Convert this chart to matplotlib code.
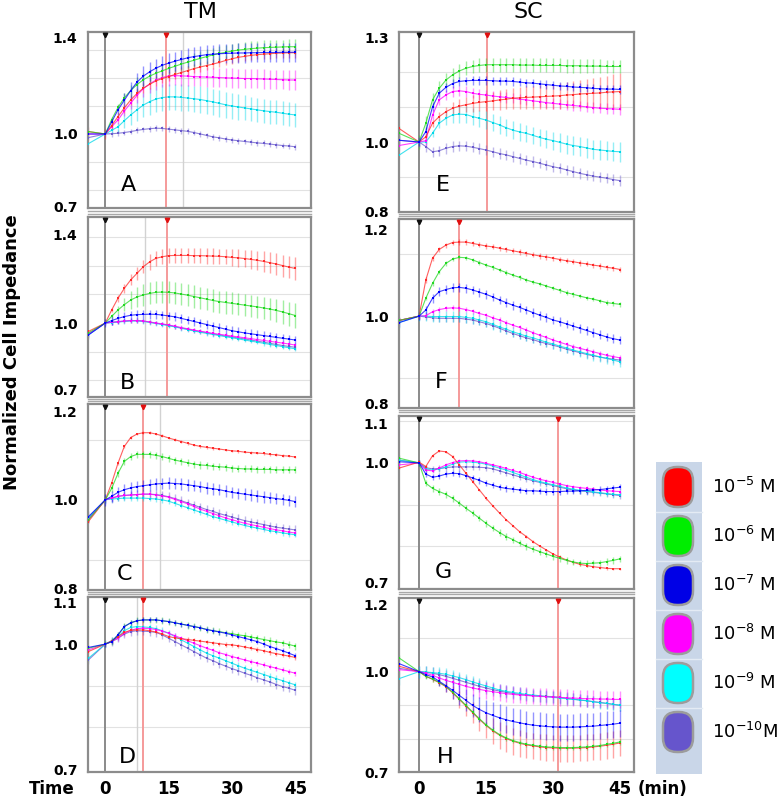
import matplotlib
matplotlib.use("Agg")
import matplotlib.pyplot as plt
from matplotlib.patches import FancyBboxPatch, Rectangle
from matplotlib.ticker import MultipleLocator

# ── data (normalized cell impedance) ─────────────────────────────────────
TIME_TM = [-4.0, 0, 1.5, 3, 4.5, 6, 7.5, 9,
           10.5, 12, 13.5, 15, 16.5, 18, 19.5, 21,
           22.5, 24, 25.5, 27, 28.5, 30, 31.5, 33,
           34.5, 36, 37.5, 39, 40.5, 42, 43.5, 45]
TIME_SC = [-4.5, 0, 1.5, 3, 4.5, 6, 7.5, 9,
           10.5, 12, 13.5, 15, 16.5, 18, 19.5, 21,
           22.5, 24, 25.5, 27, 28.5, 30, 31.5, 33,
           34.5, 36, 37.5, 39, 40.5, 42, 43.5, 45]

CONC_LABELS = ["10$^{-5}$ M", "10$^{-6}$ M", "10$^{-7}$ M",
               "10$^{-8}$ M", "10$^{-9}$ M", "10$^{-10}$M"]

# panel A (TM)
A_RED = [1.01, 1.00, 1.035, 1.072, 1.108, 1.141, 1.168, 1.19,
         1.206, 1.22, 1.23, 1.238, 1.247, 1.255, 1.263, 1.271,
         1.278, 1.284, 1.29, 1.297, 1.305, 1.312, 1.318, 1.322,
         1.326, 1.329, 1.331, 1.333, 1.335, 1.336, 1.337, 1.337]
A_GREEN = [1.01, 1.00, 1.06, 1.11, 1.15, 1.18, 1.205, 1.225,
           1.24, 1.252, 1.262, 1.272, 1.281, 1.29, 1.298, 1.306,
           1.314, 1.321, 1.328, 1.334, 1.339, 1.344, 1.348, 1.351,
           1.354, 1.356, 1.358, 1.359, 1.36, 1.361, 1.362, 1.362]
A_BLUE = [1.00, 1.00, 1.05, 1.10, 1.14, 1.18, 1.215, 1.24,
          1.258, 1.273, 1.285, 1.294, 1.302, 1.309, 1.316, 1.321,
          1.325, 1.329, 1.331, 1.333, 1.334, 1.335, 1.336, 1.336,
          1.337, 1.337, 1.338, 1.338, 1.338, 1.339, 1.339, 1.339]
A_MAGENTA = [1.00, 1.00, 1.03, 1.058, 1.095, 1.128, 1.16, 1.188,
             1.208, 1.224, 1.234, 1.241, 1.242, 1.241, 1.24, 1.238,
             1.237, 1.236, 1.235, 1.234, 1.233, 1.232, 1.231, 1.23,
             1.23, 1.229, 1.228, 1.227, 1.226, 1.225, 1.224, 1.224]
A_CYAN = [0.96, 1.00, 1.015, 1.03, 1.055, 1.079, 1.10, 1.12,
          1.134, 1.145, 1.151, 1.154, 1.154, 1.152, 1.149, 1.146,
          1.143, 1.138, 1.133, 1.127, 1.121, 1.116, 1.112, 1.108,
          1.104, 1.10, 1.096, 1.093, 1.09, 1.086, 1.082, 1.079]
A_PURPLE = [0.985, 1.00, 1.001, 1.003, 1.006, 1.01, 1.015, 1.019,
            1.022, 1.024, 1.023, 1.02, 1.017, 1.014, 1.011, 1.006,
            1.0, 0.994, 0.988, 0.984, 0.979, 0.975, 0.972, 0.969,
            0.966, 0.963, 0.961, 0.958, 0.955, 0.952, 0.95, 0.947]
A_GREEN_ERR = [0, 0, 0.01, 0.015, 0.02, 0.025, 0.03, 0.03,
               0.03, 0.03, 0.03, 0.03, 0.03, 0.03, 0.03, 0.03,
               0.03, 0.03, 0.03, 0.03, 0.03, 0.03, 0.03, 0.03,
               0.03, 0.03, 0.03, 0.03, 0.03, 0.03, 0.03, 0.03]
A_BLUE_ERR = [0, 0, 0.01, 0.02, 0.03, 0.035, 0.04, 0.04,
              0.04, 0.04, 0.04, 0.04, 0.04, 0.04, 0.04, 0.04,
              0.04, 0.04, 0.04, 0.04, 0.04, 0.04, 0.04, 0.04,
              0.04, 0.04, 0.04, 0.04, 0.04, 0.04, 0.04, 0.04]
A_MAGENTA_ERR = [0, 0, 0.01, 0.015, 0.02, 0.025, 0.03, 0.035,
                 0.04, 0.04, 0.04, 0.04, 0.04, 0.04, 0.04, 0.04,
                 0.04, 0.04, 0.04, 0.04, 0.04, 0.04, 0.04, 0.04,
                 0.04, 0.04, 0.04, 0.04, 0.04, 0.04, 0.04, 0.04]
A_CYAN_ERR = [0, 0, 0.01, 0.02, 0.03, 0.04, 0.045, 0.05,
              0.055, 0.055, 0.055, 0.055, 0.055, 0.055, 0.055, 0.055,
              0.055, 0.055, 0.055, 0.055, 0.055, 0.055, 0.052, 0.052,
              0.05, 0.05, 0.05, 0.05, 0.05, 0.05, 0.05, 0.05]

# panel B (TM)
B_RED = [0.962, 1.0, 1.059, 1.112, 1.157, 1.195, 1.225, 1.255,
         1.277, 1.293, 1.30, 1.305, 1.306, 1.306, 1.306, 1.305,
         1.305, 1.304, 1.303, 1.302, 1.30, 1.297, 1.295, 1.292,
         1.288, 1.284, 1.279, 1.273, 1.267, 1.26, 1.253, 1.247]
B_GREEN = [0.955, 1.0, 1.03, 1.059, 1.083, 1.104, 1.118, 1.127,
           1.134, 1.139, 1.14, 1.139, 1.136, 1.131, 1.126, 1.12,
           1.114, 1.108, 1.102, 1.097, 1.093, 1.089, 1.085, 1.081,
           1.077, 1.073, 1.068, 1.063, 1.057, 1.05, 1.042, 1.034]
B_BLUE = [0.946, 1.0, 1.011, 1.021, 1.029, 1.035, 1.038, 1.039,
          1.04, 1.039, 1.036, 1.032, 1.028, 1.021, 1.014, 1.007,
          1.0, 0.993, 0.986, 0.979, 0.972, 0.965, 0.96, 0.955,
          0.951, 0.947, 0.943, 0.939, 0.935, 0.931, 0.927, 0.923]
B_MAGENTA = [0.95, 1.0, 1.003, 1.006, 1.009, 1.011, 1.011, 1.009,
             1.005, 1.0, 0.996, 0.991, 0.985, 0.979, 0.974, 0.968,
             0.963, 0.958, 0.953, 0.949, 0.945, 0.941, 0.937, 0.933,
             0.929, 0.925, 0.921, 0.917, 0.913, 0.909, 0.905, 0.90]
B_CYAN = [0.946, 1.0, 1.002, 1.004, 1.007, 1.009, 1.009, 1.007,
          1.003, 0.998, 0.993, 0.988, 0.982, 0.976, 0.97, 0.964,
          0.958, 0.953, 0.948, 0.943, 0.938, 0.933, 0.928, 0.923,
          0.918, 0.913, 0.908, 0.903, 0.898, 0.893, 0.888, 0.883]
B_PURPLE = [0.948, 1.0, 1.003, 1.006, 1.009, 1.011, 1.011, 1.009,
            1.004, 0.999, 0.995, 0.99, 0.984, 0.978, 0.972, 0.966,
            0.961, 0.956, 0.951, 0.946, 0.941, 0.937, 0.932, 0.928,
            0.923, 0.918, 0.913, 0.908, 0.903, 0.898, 0.894, 0.89]
B_RED_ERR = [0, 0, 0.01, 0.015, 0.02, 0.025, 0.03, 0.03,
             0.035, 0.035, 0.035, 0.035, 0.035, 0.035, 0.035, 0.035,
             0.035, 0.035, 0.035, 0.035, 0.035, 0.038, 0.04, 0.04,
             0.042, 0.044, 0.046, 0.048, 0.05, 0.05, 0.05, 0.05]
B_GREEN_ERR = [0, 0, 0.01, 0.02, 0.03, 0.04, 0.045, 0.05,
               0.05, 0.05, 0.05, 0.05, 0.05, 0.05, 0.05, 0.05,
               0.05, 0.05, 0.05, 0.05, 0.05, 0.05, 0.05, 0.05,
               0.05, 0.05, 0.05, 0.05, 0.052, 0.054, 0.055, 0.055]

# panel C (TM)
C_RED = [0.951, 1.0, 1.038, 1.083, 1.121, 1.141, 1.149, 1.152,
         1.152, 1.149, 1.145, 1.14, 1.136, 1.132, 1.128, 1.124,
         1.121, 1.119, 1.117, 1.115, 1.113, 1.111, 1.11, 1.108,
         1.107, 1.106, 1.105, 1.103, 1.102, 1.10, 1.099, 1.097]
C_GREEN = [0.955, 1.0, 1.026, 1.06, 1.087, 1.098, 1.103, 1.103,
           1.103, 1.101, 1.098, 1.094, 1.09, 1.087, 1.084, 1.081,
           1.079, 1.078, 1.076, 1.075, 1.074, 1.072, 1.071, 1.07,
           1.07, 1.069, 1.069, 1.069, 1.068, 1.068, 1.068, 1.068]
C_BLUE = [0.962, 1.0, 1.008, 1.017, 1.023, 1.027, 1.03, 1.032,
          1.034, 1.036, 1.037, 1.038, 1.037, 1.036, 1.034, 1.032,
          1.03, 1.027, 1.025, 1.023, 1.02, 1.017, 1.015, 1.013,
          1.011, 1.009, 1.007, 1.005, 1.003, 1.001, 0.999, 0.996]
C_MAGENTA = [0.955, 1.0, 1.004, 1.008, 1.01, 1.011, 1.012, 1.013,
             1.013, 1.011, 1.009, 1.006, 1.001, 0.996, 0.991, 0.985,
             0.979, 0.974, 0.969, 0.964, 0.959, 0.955, 0.951, 0.947,
             0.944, 0.941, 0.938, 0.935, 0.932, 0.93, 0.927, 0.925]
C_CYAN = [0.96, 1.0, 1.002, 1.003, 1.004, 1.004, 1.004, 1.004,
          1.003, 1.002, 1.0, 0.997, 0.992, 0.987, 0.982, 0.977,
          0.972, 0.967, 0.962, 0.958, 0.954, 0.95, 0.946, 0.942,
          0.939, 0.936, 0.933, 0.93, 0.928, 0.925, 0.923, 0.921]
C_PURPLE = [0.958, 1.0, 1.004, 1.008, 1.01, 1.011, 1.012, 1.013,
            1.013, 1.012, 1.01, 1.007, 1.003, 0.998, 0.993, 0.988,
            0.983, 0.978, 0.974, 0.969, 0.965, 0.961, 0.957, 0.953,
            0.95, 0.947, 0.944, 0.941, 0.938, 0.936, 0.934, 0.932]

# panel D (TM)
D_RED = [0.982, 1.0, 1.008, 1.018, 1.028, 1.033, 1.034, 1.034,
         1.032, 1.029, 1.024, 1.018, 1.015, 1.013, 1.011, 1.009,
         1.007, 1.005, 1.003, 1.001, 0.999, 0.998, 0.996, 0.993,
         0.99, 0.987, 0.984, 0.98, 0.977, 0.974, 0.971, 0.968]
D_GREEN = [0.99, 1.0, 1.006, 1.022, 1.042, 1.051, 1.056, 1.058,
           1.058, 1.058, 1.056, 1.054, 1.051, 1.048, 1.045, 1.042,
           1.039, 1.035, 1.032, 1.03, 1.027, 1.025, 1.022, 1.02,
           1.017, 1.014, 1.011, 1.008, 1.005, 1.003, 0.999, 0.995]
D_BLUE = [0.992, 1.0, 1.006, 1.022, 1.042, 1.051, 1.056, 1.058,
          1.058, 1.058, 1.056, 1.054, 1.051, 1.048, 1.045, 1.042,
          1.039, 1.035, 1.032, 1.029, 1.026, 1.022, 1.018, 1.014,
          1.01, 1.006, 1.0, 0.994, 0.989, 0.984, 0.978, 0.972]
D_MAGENTA = [0.986, 1.0, 1.006, 1.014, 1.026, 1.033, 1.037, 1.038,
             1.037, 1.035, 1.031, 1.026, 1.02, 1.014, 1.008, 1.002,
             0.996, 0.99, 0.985, 0.979, 0.975, 0.97, 0.966, 0.962,
             0.958, 0.954, 0.95, 0.946, 0.942, 0.938, 0.934, 0.93]
D_CYAN = [0.966, 1.0, 1.008, 1.018, 1.032, 1.04, 1.042, 1.041,
          1.04, 1.037, 1.032, 1.026, 1.018, 1.01, 1.002, 0.994,
          0.986, 0.978, 0.972, 0.966, 0.96, 0.954, 0.948, 0.942,
          0.937, 0.932, 0.927, 0.922, 0.917, 0.912, 0.907, 0.902]
D_PURPLE = [0.962, 1.0, 1.006, 1.014, 1.024, 1.03, 1.032, 1.031,
            1.03, 1.028, 1.022, 1.014, 1.006, 0.998, 0.99, 0.982,
            0.974, 0.966, 0.96, 0.953, 0.947, 0.941, 0.936, 0.93,
            0.925, 0.919, 0.914, 0.909, 0.903, 0.898, 0.894, 0.889]

# panel E (SC)
E_RED = [1.039, 1.0, 1.015, 1.054, 1.073, 1.087, 1.097, 1.103,
         1.107, 1.111, 1.114, 1.116, 1.118, 1.121, 1.123, 1.126,
         1.127, 1.128, 1.129, 1.13, 1.131, 1.132, 1.133, 1.135,
         1.136, 1.138, 1.139, 1.14, 1.141, 1.143, 1.144, 1.145]
E_GREEN = [1.025, 1.0, 1.054, 1.121, 1.154, 1.178, 1.193, 1.204,
           1.212, 1.217, 1.22, 1.222, 1.222, 1.222, 1.222, 1.222,
           1.221, 1.221, 1.221, 1.22, 1.22, 1.22, 1.22, 1.219,
           1.219, 1.219, 1.218, 1.218, 1.218, 1.217, 1.217, 1.217]
E_BLUE = [1.005, 1.0, 1.03, 1.101, 1.14, 1.157, 1.168, 1.174,
          1.176, 1.177, 1.177, 1.177, 1.176, 1.175, 1.175, 1.174,
          1.172, 1.17, 1.169, 1.167, 1.165, 1.163, 1.161, 1.16,
          1.158, 1.157, 1.156, 1.154, 1.153, 1.152, 1.152, 1.151]
E_MAGENTA = [0.99, 1.0, 1.004, 1.077, 1.121, 1.135, 1.145, 1.147,
             1.145, 1.14, 1.137, 1.135, 1.132, 1.13, 1.128, 1.126,
             1.123, 1.121, 1.118, 1.116, 1.113, 1.111, 1.109, 1.107,
             1.105, 1.103, 1.101, 1.099, 1.097, 1.096, 1.095, 1.094]
E_CYAN = [0.962, 1.0, 1.0, 1.025, 1.054, 1.068, 1.078, 1.08,
          1.079, 1.073, 1.068, 1.063, 1.056, 1.049, 1.041, 1.034,
          1.029, 1.025, 1.019, 1.013, 1.008, 1.004, 0.999, 0.994,
          0.99, 0.987, 0.983, 0.979, 0.977, 0.975, 0.973, 0.972]
E_PURPLE = [1.005, 1.0, 0.987, 0.972, 0.975, 0.982, 0.987, 0.989,
            0.988, 0.985, 0.981, 0.977, 0.972, 0.967, 0.963, 0.958,
            0.953, 0.948, 0.944, 0.939, 0.934, 0.929, 0.925, 0.92,
            0.915, 0.91, 0.906, 0.902, 0.899, 0.896, 0.892, 0.889]
E_RED_ERR = [0, 0, 0.005, 0.01, 0.012, 0.015, 0.018, 0.02,
             0.022, 0.024, 0.025, 0.026, 0.027, 0.028, 0.029, 0.03,
             0.031, 0.032, 0.033, 0.034, 0.035, 0.036, 0.037, 0.038,
             0.039, 0.04, 0.042, 0.044, 0.046, 0.048, 0.05, 0.052]
E_CYAN_ERR = [0, 0, 0.005, 0.01, 0.015, 0.02, 0.022, 0.024,
              0.025, 0.025, 0.025, 0.025, 0.025, 0.025, 0.025, 0.025,
              0.025, 0.025, 0.025, 0.025, 0.026, 0.026, 0.027, 0.027,
              0.028, 0.028, 0.028, 0.028, 0.028, 0.028, 0.028, 0.028]

# panel F (SC)
F_RED = [0.99, 1.0, 1.083, 1.133, 1.153, 1.163, 1.169, 1.17,
         1.17, 1.167, 1.164, 1.161, 1.159, 1.156, 1.153, 1.15,
         1.147, 1.144, 1.141, 1.138, 1.136, 1.133, 1.13, 1.127,
         1.125, 1.122, 1.12, 1.117, 1.115, 1.112, 1.11, 1.107]
F_GREEN = [0.99, 1.0, 1.041, 1.075, 1.102, 1.121, 1.131, 1.135,
           1.134, 1.129, 1.123, 1.117, 1.112, 1.106, 1.1, 1.094,
           1.089, 1.083, 1.078, 1.074, 1.069, 1.064, 1.059, 1.054,
           1.05, 1.046, 1.042, 1.039, 1.035, 1.031, 1.029, 1.027]
F_BLUE = [0.985, 1.0, 1.014, 1.041, 1.056, 1.061, 1.065, 1.066,
          1.064, 1.06, 1.055, 1.05, 1.044, 1.037, 1.031, 1.025,
          1.02, 1.014, 1.008, 1.002, 0.997, 0.991, 0.987, 0.982,
          0.977, 0.972, 0.967, 0.962, 0.957, 0.952, 0.948, 0.945]
F_MAGENTA = [0.99, 1.0, 1.001, 1.01, 1.015, 1.018, 1.019, 1.018,
             1.015, 1.011, 1.006, 1.002, 0.996, 0.991, 0.985, 0.979,
             0.974, 0.968, 0.962, 0.956, 0.951, 0.945, 0.94, 0.935,
             0.93, 0.926, 0.922, 0.918, 0.914, 0.91, 0.907, 0.904]
F_CYAN = [0.985, 1.0, 1.0, 0.999, 0.999, 0.999, 0.999, 0.999,
          0.997, 0.995, 0.991, 0.987, 0.981, 0.975, 0.97, 0.964,
          0.959, 0.954, 0.95, 0.945, 0.94, 0.936, 0.931, 0.927,
          0.922, 0.918, 0.914, 0.91, 0.906, 0.903, 0.899, 0.895]
F_PURPLE = [0.99, 1.0, 0.998, 0.996, 0.995, 0.995, 0.995, 0.995,
            0.993, 0.991, 0.987, 0.983, 0.978, 0.972, 0.966, 0.96,
            0.955, 0.95, 0.946, 0.941, 0.937, 0.933, 0.929, 0.924,
            0.92, 0.916, 0.912, 0.909, 0.906, 0.903, 0.901, 0.899]

# panel G (SC)
G_RED = [0.987, 1.002, 0.991, 1.018, 1.03, 1.028, 1.016, 0.995,
         0.974, 0.953, 0.932, 0.911, 0.892, 0.874, 0.857, 0.842,
         0.827, 0.815, 0.802, 0.791, 0.781, 0.771, 0.763, 0.756,
         0.75, 0.745, 0.742, 0.739, 0.737, 0.735, 0.734, 0.734]
G_GREEN = [1.012, 1.0, 0.949, 0.936, 0.928, 0.921, 0.911, 0.899,
           0.886, 0.874, 0.861, 0.848, 0.836, 0.825, 0.815, 0.807,
           0.798, 0.79, 0.783, 0.777, 0.771, 0.765, 0.76, 0.755,
           0.751, 0.748, 0.747, 0.748, 0.749, 0.752, 0.755, 0.759]
G_BLUE = [1.003, 1.0, 0.972, 0.964, 0.967, 0.972, 0.974, 0.973,
          0.968, 0.962, 0.956, 0.949, 0.944, 0.939, 0.936, 0.934,
          0.932, 0.93, 0.93, 0.929, 0.928, 0.928, 0.928, 0.929,
          0.929, 0.93, 0.931, 0.932, 0.933, 0.935, 0.937, 0.939]
G_MAGENTA = [0.995, 1.0, 0.982, 0.98, 0.987, 0.995, 1.001, 1.005,
             1.006, 1.005, 1.003, 0.999, 0.995, 0.991, 0.986, 0.981,
             0.976, 0.97, 0.964, 0.959, 0.955, 0.951, 0.947, 0.943,
             0.94, 0.938, 0.936, 0.934, 0.932, 0.93, 0.929, 0.928]
G_CYAN = [1.007, 1.0, 0.985, 0.982, 0.985, 0.99, 0.997, 1.002,
          1.003, 1.002, 1.0, 0.997, 0.992, 0.987, 0.982, 0.976,
          0.97, 0.964, 0.958, 0.953, 0.949, 0.945, 0.941, 0.937,
          0.934, 0.931, 0.929, 0.927, 0.925, 0.923, 0.921, 0.92]
G_PURPLE = [1.007, 1.0, 0.988, 0.985, 0.986, 0.988, 0.99, 0.99,
            0.99, 0.99, 0.989, 0.988, 0.985, 0.98, 0.975, 0.97,
            0.965, 0.96, 0.955, 0.951, 0.947, 0.943, 0.939, 0.935,
            0.932, 0.93, 0.928, 0.926, 0.924, 0.922, 0.92, 0.918]

# panel H (SC)
H_RED = [1.016, 1.0, 0.986, 0.977, 0.967, 0.955, 0.937, 0.917,
         0.897, 0.877, 0.857, 0.839, 0.823, 0.81, 0.8, 0.792,
         0.786, 0.781, 0.778, 0.775, 0.773, 0.772, 0.771, 0.771,
         0.771, 0.772, 0.773, 0.775, 0.777, 0.78, 0.783, 0.787]
H_GREEN = [1.041, 1.0, 0.986, 0.978, 0.968, 0.956, 0.938, 0.919,
           0.899, 0.879, 0.859, 0.841, 0.825, 0.812, 0.802, 0.794,
           0.788, 0.783, 0.78, 0.777, 0.775, 0.774, 0.773, 0.773,
           0.773, 0.774, 0.775, 0.777, 0.779, 0.783, 0.786, 0.79]
H_BLUE = [1.024, 1.0, 0.991, 0.984, 0.971, 0.958, 0.944, 0.929,
          0.914, 0.899, 0.887, 0.877, 0.869, 0.862, 0.856, 0.851,
          0.847, 0.843, 0.84, 0.838, 0.836, 0.835, 0.834, 0.834,
          0.834, 0.835, 0.836, 0.837, 0.839, 0.841, 0.843, 0.846]
H_MAGENTA = [1.006, 1.0, 0.995, 0.989, 0.981, 0.974, 0.968, 0.962,
             0.956, 0.951, 0.947, 0.943, 0.94, 0.937, 0.934, 0.932,
             0.93, 0.929, 0.927, 0.926, 0.925, 0.924, 0.923, 0.922,
             0.921, 0.92, 0.919, 0.919, 0.918, 0.918, 0.917, 0.917]
H_CYAN = [0.979, 1.0, 0.999, 0.997, 0.995, 0.992, 0.987, 0.982,
          0.976, 0.969, 0.963, 0.957, 0.951, 0.945, 0.941, 0.938,
          0.935, 0.932, 0.93, 0.928, 0.925, 0.923, 0.921, 0.919,
          0.917, 0.915, 0.913, 0.91, 0.907, 0.905, 0.902, 0.9]
H_PURPLE = [1.01, 1.0, 0.998, 0.995, 0.991, 0.986, 0.98, 0.974,
            0.968, 0.962, 0.956, 0.951, 0.946, 0.942, 0.938, 0.935,
            0.932, 0.93, 0.928, 0.927, 0.926, 0.925, 0.923, 0.92,
            0.918, 0.915, 0.913, 0.91, 0.908, 0.905, 0.902, 0.899]
H_RED_ERR = [0, 0, 0.005, 0.008, 0.01, 0.015, 0.02, 0.025,
             0.03, 0.032, 0.035, 0.037, 0.038, 0.04, 0.04, 0.04,
             0.04, 0.04, 0.04, 0.04, 0.04, 0.04, 0.04, 0.04,
             0.04, 0.04, 0.04, 0.04, 0.04, 0.04, 0.04, 0.04]
H_BLUE_ERR = [0, 0, 0.005, 0.01, 0.015, 0.02, 0.025, 0.03,
              0.033, 0.035, 0.037, 0.038, 0.04, 0.04, 0.04, 0.04,
              0.04, 0.04, 0.04, 0.04, 0.04, 0.04, 0.04, 0.04,
              0.04, 0.04, 0.04, 0.04, 0.04, 0.04, 0.04, 0.04]
H_MAGENTA_ERR = [0, 0, 0.005, 0.01, 0.015, 0.02, 0.022, 0.025,
                 0.025, 0.025, 0.025, 0.025, 0.025, 0.025, 0.025, 0.025,
                 0.025, 0.025, 0.025, 0.025, 0.025, 0.025, 0.025, 0.025,
                 0.025, 0.025, 0.025, 0.025, 0.025, 0.025, 0.025, 0.025]

# ── styling / layout ─────────────────────────────────────────────────────
W, H = 777, 799
LINE_COLORS = ["#ff2a2a", "#22d822", "#0000ff", "#ff00ff", "#00d8e8", "#6a5acd"]
LEGEND_COLORS = ["#ff0000", "#00ee00", "#0000e6", "#ff00ff", "#00ffff", "#6655cc"]
DRAW_ORDER = [5, 4, 3, 0, 1, 2]          # purple first, blue on top
COL_X = [(88, 311), (399, 634)]
XLIM = [(-4.1, 48.7), (-4.5, 48.1)]
TIMES = [TIME_TM, TIME_SC]

# series order in every panel: 1e-5, 1e-6, 1e-7, 1e-8, 1e-9, 1e-10 M
PANELS = [
    dict(letter="A", col=0, px=(32, 208), lpos=(128, 185), ylim=(0.693, 1.423),
         yticks=[0.7, 1.0, 1.4], grid=0.116, red=14.4, grey=[18.5],
         data=[A_RED, A_GREEN, A_BLUE, A_MAGENTA, A_CYAN, A_PURPLE],
         err=[0.02, A_GREEN_ERR, A_BLUE_ERR, A_MAGENTA_ERR, A_CYAN_ERR, 0.012]),
    dict(letter="B", col=0, px=(217, 397), lpos=(127, 383), ylim=(0.665, 1.48),
         yticks=[0.7, 1.0, 1.4], grid=0.13, red=14.5, grey=[9.5],
         data=[B_RED, B_GREEN, B_BLUE, B_MAGENTA, B_CYAN, B_PURPLE],
         err=[B_RED_ERR, B_GREEN_ERR, 0.02, 0.01, 0.01, 0.01]),
    dict(letter="C", col=0, px=(404, 590), lpos=(125, 574), ylim=(0.796, 1.217),
         yticks=[0.8, 1.0, 1.2], grid=0.135, red=9.0, grey=[13.0],
         data=[C_RED, C_GREEN, C_BLUE, C_MAGENTA, C_CYAN, C_PURPLE],
         err=[0.003, 0.008, 0.013, 0.006, 0.006, 0.01]),
    dict(letter="D", col=0, px=(597, 772), lpos=(127, 757), ylim=(0.693, 1.113),
         yticks=[0.7, 1.0, 1.1], grid=0.10, red=9.0, grey=[7.5],
         data=[D_RED, D_GREEN, D_BLUE, D_MAGENTA, D_CYAN, D_PURPLE],
         err=[0.005, 0.008, 0.006, 0.006, 0.008, 0.01]),
    dict(letter="E", col=1, px=(32, 212), lpos=(443, 185), ylim=(0.799, 1.316),
         yticks=[0.8, 1.0, 1.3], grid=0.10, red=15.2, grey=[],
         data=[E_RED, E_GREEN, E_BLUE, E_MAGENTA, E_CYAN, E_PURPLE],
         err=[E_RED_ERR, 0.02, 0.012, 0.015, E_CYAN_ERR, 0.015]),
    dict(letter="F", col=1, px=(219, 408), lpos=(441, 382), ylim=(0.789, 1.223),
         yticks=[0.8, 1.0, 1.2], grid=0.142, red=9.0, grey=[],
         data=[F_RED, F_GREEN, F_BLUE, F_MAGENTA, F_CYAN, F_PURPLE],
         err=[0.006, 0.005, 0.01, 0.006, 0.012, 0.008]),
    dict(letter="G", col=1, px=(416, 589), lpos=(443, 572), ylim=(0.683, 1.118),
         yticks=[0.7, 1.0, 1.1], grid=0.105, red=31.0, grey=[],
         data=[G_RED, G_GREEN, G_BLUE, G_MAGENTA, G_CYAN, G_PURPLE],
         err=[0.003, 0.008, 0.008, 0.005, 0.006, 0.008]),
    dict(letter="H", col=1, px=(598, 772), lpos=(445, 757), ylim=(0.702, 1.22),
         yticks=[0.7, 1.0, 1.2], grid=0.10, red=31.0, grey=[],
         data=[H_RED, H_GREEN, H_BLUE, H_MAGENTA, H_CYAN, H_PURPLE],
         err=[H_RED_ERR, 0.008, H_BLUE_ERR, H_MAGENTA_ERR, 0.018, 0.018]),
]
# double rule in the gap between stacked panels: (column, upper y, lower y)
SEPARATORS = [(0, 211, 214), (0, 399, 401), (0, 592, 594),
              (1, 214, 216), (1, 410, 412), (1, 592, 594)]


def fig_box(x0, y0, x1, y1):
    return [x0 / W, 1 - y1 / H, (x1 - x0) / W, (y1 - y0) / H]


fig = plt.figure(figsize=(W / 100, H / 100), dpi=100)

for p in PANELS:
    col = p["col"]
    x0, x1 = COL_X[col]
    y0, y1 = p["px"]
    ax = fig.add_axes(fig_box(x0, y0, x1, y1))
    time = TIMES[col]
    ax.set_xlim(*XLIM[col])
    ax.set_ylim(*p["ylim"])

    ax.yaxis.set_minor_locator(MultipleLocator(p["grid"], offset=1.0))
    ax.grid(True, which="minor", axis="y", color="#e2e2e2", lw=0.8)
    ax.set_axisbelow(True)

    ax.axvline(0, color="#8a8a8a", lw=1.4, zorder=1.5)
    for g in p["grey"]:
        ax.axvline(g, color="#d2d2d2", lw=1.0, zorder=1.4)
    ax.axvline(p["red"], color="#f59a9a", lw=1.4, zorder=1.5)
    ax.plot([0], [0.985], transform=ax.get_xaxis_transform(), marker="v",
            ms=3.2, color="#111111", clip_on=False, zorder=4)
    ax.plot([p["red"]], [0.985], transform=ax.get_xaxis_transform(),
            marker="v", ms=3.2, color="#e01010", clip_on=False, zorder=4)

    for i in DRAW_ORDER:
        vals = p["data"][i]
        c = LINE_COLORS[i]
        ax.errorbar(time, vals, yerr=p["err"][i], fmt="none", ecolor=c,
                    elinewidth=1.0, alpha=0.42, capsize=0, zorder=2)
        ax.plot(time, vals, color=c, lw=0.8, alpha=0.75, zorder=3)
        ax.plot(time, vals, ls="none", marker="s", ms=2.0, mew=0,
                color=c, zorder=3)

    ax.set_yticks(p["yticks"])
    ax.set_yticklabels([f"{v:.1f}" for v in p["yticks"]],
                       fontweight="bold", fontsize=10)
    ax.tick_params(which="both", length=0)
    ax.tick_params(axis="y", pad=7.5)
    if p["letter"] in ("D", "H"):
        ax.set_xticks([0, 15, 30, 45])
        ax.set_xticklabels(["0", "15", "30", "45"], fontweight="bold",
                           fontsize=12)
        ax.tick_params(axis="x", pad=6)
    else:
        ax.set_xticks([])
    for s in ax.spines.values():
        s.set_color("#8c8c8c")
        s.set_linewidth(1.6)

# decorations in pixel coordinates, drawn above the panels
deco = fig.add_axes([0, 0, 1, 1], zorder=5)
deco.set_xlim(0, W)
deco.set_ylim(H, 0)
deco.axis("off")
deco.patch.set_alpha(0)

for col, ya, yb in SEPARATORS:
    x0, x1 = COL_X[col]
    deco.plot([x0, x1], [ya, ya], color="#a8a8a8", lw=1.0)
    deco.plot([x0, x1], [yb, yb], color="#a8a8a8", lw=1.0)

for p in PANELS:
    deco.text(*p["lpos"], p["letter"], fontsize=16, ha="center", va="center")

deco.text(200, 12, "TM", fontsize=16, ha="center", va="center")
deco.text(528, 12, "SC", fontsize=16, ha="center", va="center")
deco.text(12, 352, "Normalized Cell Impedance", fontsize=13,
          fontweight="bold", rotation=90, ha="center", va="center")
deco.text(75, 789, "Time", fontsize=12, fontweight="bold",
          ha="right", va="center")
deco.text(638, 789, "(min)", fontsize=12, fontweight="bold",
          ha="left", va="center")

# legend
deco.add_patch(Rectangle((656, 462), 46, 312, facecolor="#c9d6e8",
                         edgecolor="none"))
cell_h = 49
for k, (c, lab) in enumerate(zip(LEGEND_COLORS, CONC_LABELS)):
    cy = 487 + k * cell_h
    if k > 0:
        deco.plot([656, 702], [cy - cell_h / 2, cy - cell_h / 2],
                  color="#e4ebf4", lw=1.0)
    deco.add_patch(FancyBboxPatch((663, cy - 20), 30, 40,
                                  boxstyle="round,pad=0,rounding_size=14",
                                  facecolor=c, edgecolor="#9c9c9c", lw=1.8))
    deco.text(712, cy, lab, fontsize=13, ha="left", va="center")

fig.savefig("out.png", dpi=100)
